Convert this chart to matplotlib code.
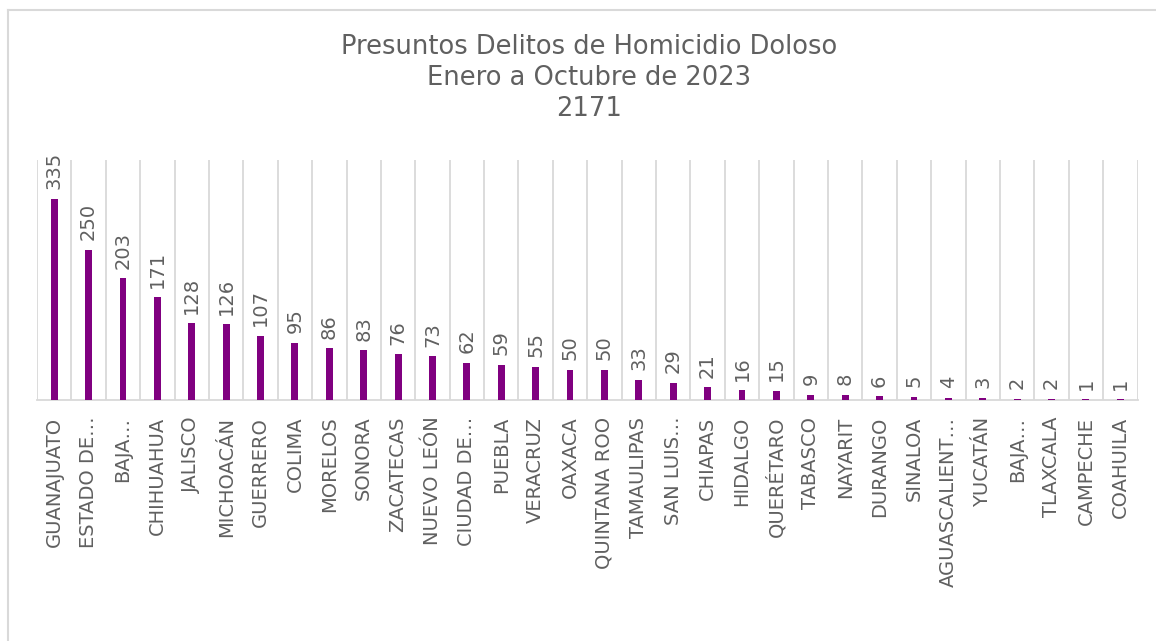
import numpy as np
import matplotlib.pyplot as plt
from matplotlib.lines import Line2D

# Homicidio doloso por entidad, enero-octubre 2023
estados = ["GUANAJUATO", "ESTADO DE…", "BAJA…", "CHIHUAHUA", "JALISCO",
           "MICHOACÁN", "GUERRERO", "COLIMA", "MORELOS", "SONORA",
           "ZACATECAS", "NUEVO LEÓN", "CIUDAD DE…", "PUEBLA", "VERACRUZ",
           "OAXACA", "QUINTANA ROO", "TAMAULIPAS", "SAN LUIS…", "CHIAPAS",
           "HIDALGO", "QUERÉTARO", "TABASCO", "NAYARIT", "DURANGO",
           "SINALOA", "AGUASCALIENT…", "YUCATÁN", "BAJA…", "TLAXCALA",
           "CAMPECHE", "COAHUILA"]
casos = [335, 250, 203, 171, 128, 126, 107, 95, 86, 83, 76, 73, 62, 59, 55,
         50, 50, 33, 29, 21, 16, 15, 9, 8, 6, 5, 4, 3, 2, 2, 1, 1]
titulo = "Presuntos Delitos de Homicidio Doloso\nEnero a Octubre de 2023\n2171"

morado = "#800080"
gris_txt = "#606060"
gris_linea = "#d9d9d9"

plt.rcParams['font.family'] = ['DejaVu Sans']

fig = plt.figure(figsize=(11.56, 6.41), dpi=100)
ax = fig.add_axes([0.032, 0.376, 0.952, 0.374])

x = np.arange(len(estados))
ax.bar(x, casos, width=0.2, color=morado, zorder=3)

ax.set_xlim(-0.5, len(estados) - 0.5)
ax.set_ylim(0, 400)

# líneas verticales entre categorías
for b in np.arange(-0.5, len(estados), 1.0):
    ax.axvline(b, color=gris_linea, lw=1.3, zorder=1)

for s in ["top", "right", "left"]:
    ax.spines[s].set_visible(False)
ax.spines["bottom"].set_color(gris_linea)
ax.spines["bottom"].set_linewidth(1.3)
ax.set_yticks([])

ax.set_xticks(x)
ax.set_xticklabels(estados, rotation=90, fontsize=14, color=gris_txt,
                   va="top", ha="center")
ax.tick_params(axis="x", length=0, pad=12)

for xi, v in zip(x, casos):
    ax.annotate(str(v), (xi, v), xytext=(0, 7), textcoords="offset points",
                rotation=90, ha="center", va="bottom", fontsize=14,
                color=gris_txt)

fig.text(0.51, 0.947, titulo, ha="center", va="top", fontsize=18.5,
         color=gris_txt, linespacing=1.25)

# marco de la figura
fig.add_artist(Line2D([0.007, 1.0], [0.985, 0.985], transform=fig.transFigure,
                      color=gris_linea, lw=1.5))
fig.add_artist(Line2D([0.007, 0.007], [0.0, 0.985], transform=fig.transFigure,
                      color=gris_linea, lw=1.5))

fig.savefig("out.png", dpi=100, facecolor="white")
